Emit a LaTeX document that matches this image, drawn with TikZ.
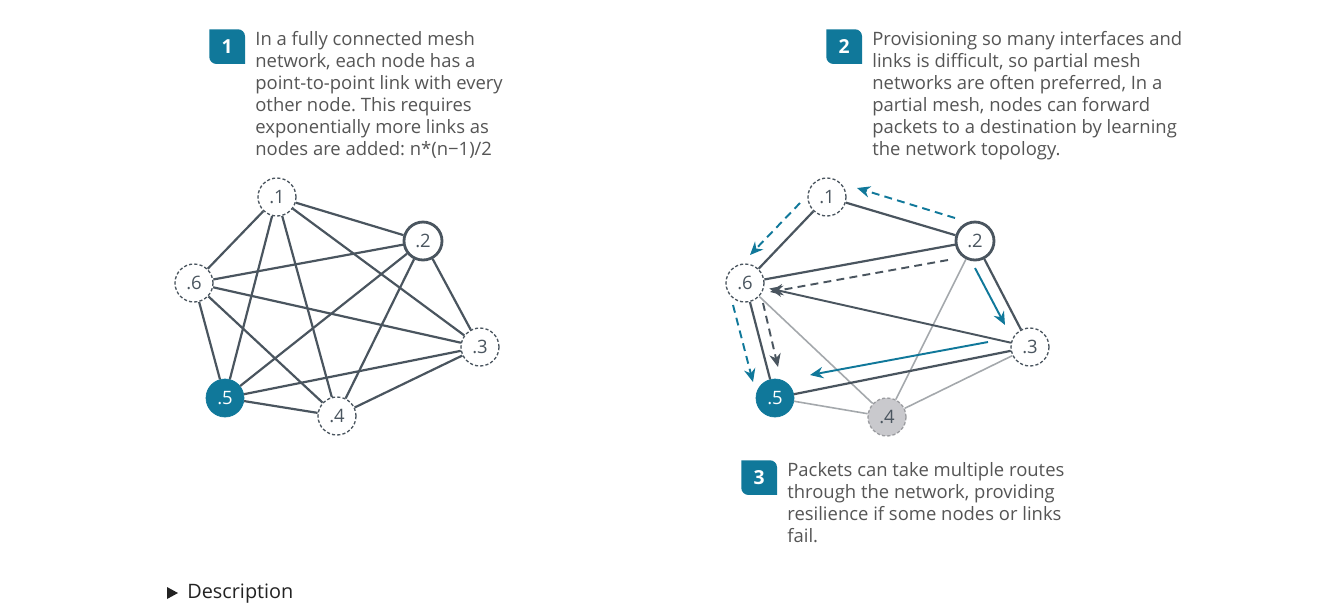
\documentclass[tikz,border=0pt]{standalone}
\usepackage{fontspec}
\setmainfont{Open Sans}
\frenchspacing
\usetikzlibrary{positioning, calc, arrows.meta}
\definecolor{meshteal}{HTML}{10789A}
\definecolor{linkdark}{HTML}{4A555F}
\definecolor{linklight}{HTML}{A4A8AC}
\definecolor{downfill}{HTML}{C9C9CD}
\definecolor{downedge}{HTML}{9B9CA0}
\definecolor{notegray}{HTML}{555555}
\definecolor{descink}{HTML}{222222}

\begin{document}
\begin{tikzpicture}[
        x=0.02cm, y=-0.02cm,
        host/.style={circle, draw=linkdark, fill=white, minimum size=0.76cm, inner sep=0pt, text=linkdark, font=\fontsize{10.5}{12}\selectfont},
        idle/.style={host, line width=0.75pt, dash pattern=on 1.8pt off 1.2pt},
        router/.style={host, line width=1.6pt},
        target/.style={host, draw=meshteal, fill=meshteal, text=white},
        failed/.style={host, draw=downedge, fill=downfill, line width=0.75pt, dash pattern=on 1.8pt off 1.2pt},
        link/.style={draw=linkdark, line width=1.25pt},
        faint/.style={draw=linklight, line width=0.9pt},
        route/.style={line width=1.1pt, -{Stealth[length=7.5pt, width=6.5pt]}},
        badge/.style={minimum width=0.7cm, minimum height=0.68cm, inner sep=0pt},
        badgenum/.style={text=white, font=\fontsize{11}{12}\selectfont\bfseries},
        note/.style={anchor=north west, align=left, inner sep=0pt, text=notegray, font=\fontsize{10.5}{12.5}\selectfont}
    ]
        \useasboundingbox[fill=white] (0,0) rectangle (1333,603);

        % Full mesh
        \node[note] (txt1) at (255,31) {In a fully connected mesh\\network, each node has a\\point-to-point link with every\\other node. This requires\\exponentially more links as\\nodes are added: n*(n−1)/2};
        \node[badge, below left=-1pt and 0.2cm of txt1.north west] (b1) {};
        \fill[meshteal] (b1.north west) [rounded corners=4pt] -- (b1.north east) [sharp corners] -- (b1.south east) [rounded corners=4pt] -- (b1.south west) [sharp corners] -- cycle;
        \node[badgenum] (n1) at (b1) {1};

        \node[idle] (a1) at (277,197) {.1};
        \node[router] (a2) at (423,241) {.2};
        \node[idle] (a6) at (194,283) {.6};
        \node[idle] (a3) at (480,347) {.3};
        \node[target] (a5) at (225,398) {.5};
        \node[idle] (a4) at (337,416) {.4};

        \draw[link] (a1) -- (a2);
        \draw[link] (a1) -- (a3);
        \draw[link] (a1) -- (a4);
        \draw[link] (a1) -- (a5);
        \draw[link] (a1) -- (a6);
        \draw[link] (a2) -- (a3);
        \draw[link] (a2) -- (a4);
        \draw[link] (a2) -- (a5);
        \draw[link] (a2) -- (a6);
        \draw[link] (a3) -- (a4);
        \draw[link] (a3) -- (a5);
        \draw[link] (a3) -- (a6);
        \draw[link] (a4) -- (a5);
        \draw[link] (a4) -- (a6);
        \draw[link] (a5) -- (a6);

        % Partial mesh
        \node[note] (txt2) at (872,31) {Provisioning so many interfaces and\\links is difficult, so partial mesh\\networks are often preferred, In a\\partial mesh, nodes can forward\\packets to a destination by learning\\the network topology.};
        \node[badge, below left=-1pt and 0.2cm of txt2.north west] (b2) {};
        \fill[meshteal] (b2.north west) [rounded corners=4pt] -- (b2.north east) [sharp corners] -- (b2.south east) [rounded corners=4pt] -- (b2.south west) [sharp corners] -- cycle;
        \node[badgenum] (n2) at (b2) {2};

        \node[idle] (r1) at (827,197) {.1};
        \node[router] (r2) at (975,241) {.2};
        \node[idle] (r6) at (745,283) {.6};
        \node[idle] (r3) at (1030,347) {.3};
        \node[target] (r5) at (775,398) {.5};
        \node[failed] (r4) at (887,417) {.4};

        \draw[faint] (r2) -- (r4);
        \draw[faint] (r6) -- (r4);
        \draw[faint] (r3) -- (r4);
        \draw[faint] (r5) -- (r4);
        \draw[link] (r1) -- (r2);
        \draw[link] (r1) -- (r6);
        \draw[link] (r2) -- (r6);
        \draw[link] (r2) -- (r3);
        \draw[link] (r6) -- (r5);
        \draw[link] (r3) -- (r5);
        \draw[link, route, linkdark, shorten >=3pt] (r3) -- (r6);

        % Routes around the failed node
        \coordinate (p21s) at (955,218);
        \coordinate (p21e) at (857,188);
        \coordinate (p16s) at (800,203);
        \coordinate (p16e) at (750,255);
        \coordinate (p65s) at (733,305);
        \coordinate (p65e) at (753,382);
        \coordinate (q26s) at (948,260);
        \coordinate (q26e) at (770,292);
        \coordinate (q65s) at (763,303);
        \coordinate (q65e) at (778,367);
        \coordinate (t23s) at (975,268);
        \coordinate (t23e) at (1005,325);
        \coordinate (t35s) at (988,342);
        \coordinate (t35e) at (810,375);
        \draw[route, meshteal, dash pattern=on 4.5pt off 3pt] (p21s) -- (p21e);
        \draw[route, meshteal, dash pattern=on 4.5pt off 3pt] (p16s) -- (p16e);
        \draw[route, meshteal, dash pattern=on 4.5pt off 3pt] (p65s) -- (p65e);
        \draw[route, linkdark, dash pattern=on 4.5pt off 3pt] (q26s) -- (q26e);
        \draw[route, linkdark, dash pattern=on 4.5pt off 3pt] (q65s) -- (q65e);
        \draw[route, meshteal] (t23s) -- (t23e);
        \draw[route, meshteal] (t35s) -- (t35e);

        \node[note] (txt3) at (787,462) {Packets can take multiple routes\\through the network, providing\\resilience if some nodes or links\\fail.};
        \node[badge, below left=-1pt and 0.2cm of txt3.north west] (b3) {};
        \fill[meshteal] (b3.north west) [rounded corners=4pt] -- (b3.north east) [sharp corners] -- (b3.south east) [rounded corners=4pt] -- (b3.south west) [sharp corners] -- cycle;
        \node[badgenum] (n3) at (b3) {3};

        % Description toggle
        \node[anchor=west, inner sep=0pt, text=descink, font=\fontsize{11.3}{13}\selectfont] (desc) at (187,594) {Description};
        \fill[descink] ($(desc.west)+(-20,-7)$) -- ++(0,12) -- ++(11,-6) -- cycle;

    \end{tikzpicture}
\end{document}
